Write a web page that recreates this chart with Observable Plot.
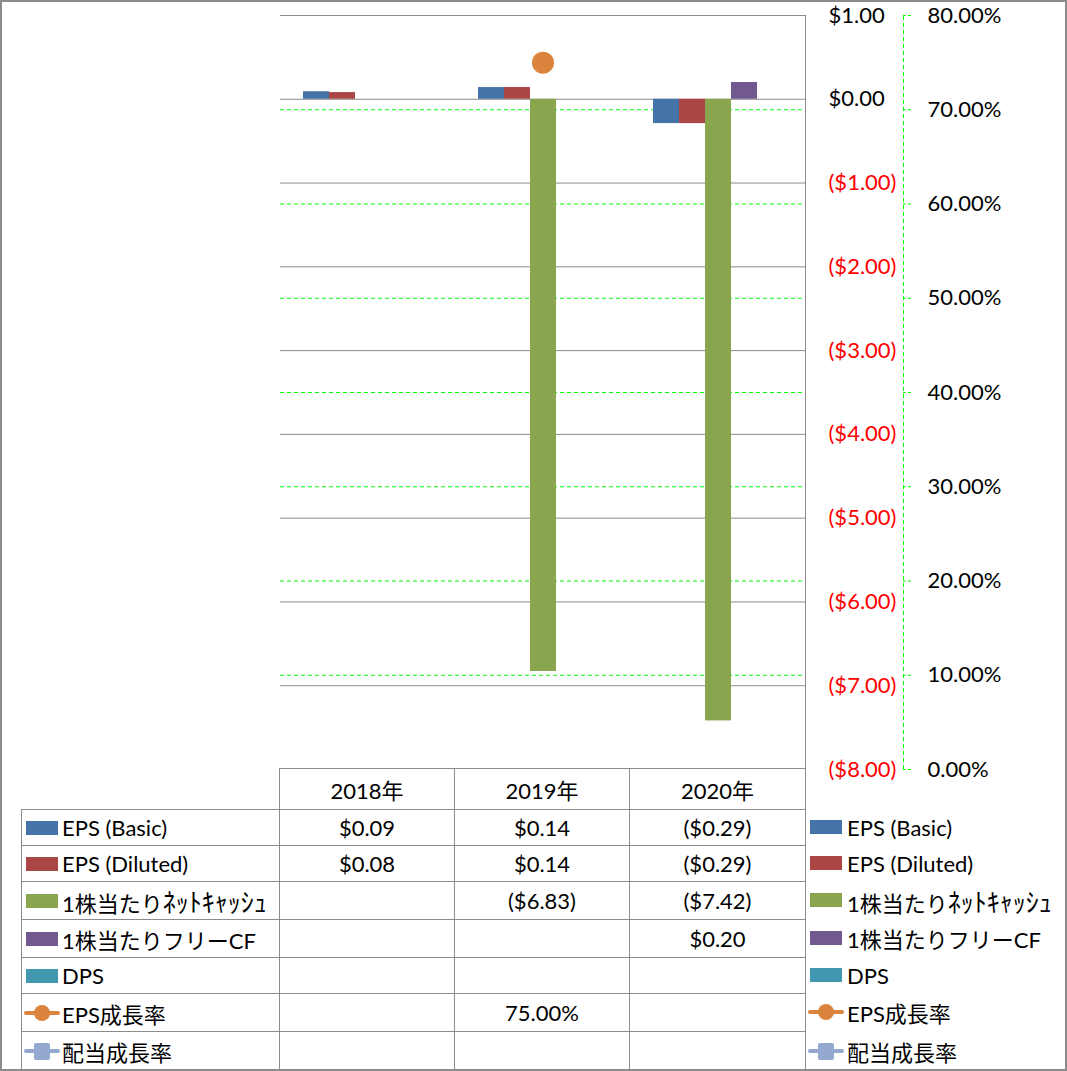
<!DOCTYPE html>
<html><head><meta charset="utf-8">
<script src="https://cdn.jsdelivr.net/npm/d3@7"></script>
<script src="https://cdn.jsdelivr.net/npm/@observablehq/plot@0.6"></script>
<style>
html,body{margin:0;padding:0;background:#fff;}
#wrap{position:relative;width:1067px;height:1071px;font-family:Lato,"Noto Sans CJK JP",sans-serif;font-size:22px;color:#000;overflow:hidden;background:#fff}
#wrap svg.plotsvg{position:absolute;left:0;top:0}
#border{position:absolute;left:0;top:0;width:1067px;height:1071px;box-sizing:border-box;border:2px solid #8c8c8c;pointer-events:none}
.cell{position:absolute;box-sizing:border-box;display:flex;align-items:center;white-space:nowrap;border-color:#8c8c8c;border-style:solid;border-width:0}
.cell.num{justify-content:center}
.sw{display:inline-block;flex:none}
.leg{position:absolute;display:flex;align-items:center;white-space:nowrap}
.hk{font-size:26px}
</style></head>
<body><div id="wrap"></div>
<script>
// ---------- data ----------
const years = ["2018年", "2019年", "2020年"];
const barSeries = ["EPS (Basic)", "EPS (Diluted)", "1株当たりﾈｯﾄｷｬｯｼｭ", "1株当たりフリーCF", "DPS"];
const lineSeries = ["EPS成長率", "配当成長率"];
const epsBasic = [0.09, 0.14, -0.29];
const epsDiluted = [0.08, 0.14, -0.29];
const netCash = [null, -6.83, -7.42];
const freeCF = [null, null, 0.20];
const dps = [null, null, null];
const epsGrowth = [null, 75, null];   // percent
const divGrowth = [null, null, null]; // percent
const dollarTicks = [1, 0, -1, -2, -3, -4, -5, -6, -7, -8];
const pctTicks = [0, 10, 20, 30, 40, 50, 60, 70, 80];

// ---------- styles ----------
const barColors = ["#4572A7", "#AA4643", "#89A54E", "#71588F", "#4198AF"];
const lineColors = ["#DB843D", "#93A9CF"];
const FONT = 'Lato, "Noto Sans CJK JP", sans-serif';
const GRID = "#8c8c8c";
const GREEN = "#00FF00";

const barValues = [epsBasic, epsDiluted, netCash, freeCF, dps];
const barRows = [];
years.forEach((yr, i) => barSeries.forEach((s, j) => {
  const v = barValues[j][i];
  if (v != null) barRows.push({year: yr, series: s, value: v});
}));
const growthRows = years.map((yr, i) => ({year: yr, value: epsGrowth[i]})).filter(d => d.value != null);

// secondary (percent) axis mapped onto primary dollar axis: 0% -> -8, 80% -> 1
const toY = p => -8 + p * 9 / 80;
const fmtMoney = v => v == null ? "" : (v < 0 ? `($${(-v).toFixed(2)})` : `$${v.toFixed(2)}`);
const fmtPct = v => v == null ? "" : `${v.toFixed(2)}%`;
// half-width katakana rendered a bit larger (display only)
const styleLabel = s => s.replace(/[\uFF61-\uFF9F]+/g, m => `<span class="hk">${m}</span>`);

const W = 1067, H = 770;
const common = {width: W, height: H, marginTop: 15, marginBottom: 1, marginLeft: 279};
const wrap = document.getElementById("wrap");

// ---------- main chart ----------
const main = Plot.plot({
  ...common, marginRight: 262,
  style: {background: "transparent", overflow: "visible", fontFamily: FONT, fontSize: "22px"},
  fx: {domain: years, padding: 0, axis: null},
  x: {domain: barSeries, paddingInner: 0, paddingOuter: 0.77, axis: null},
  y: {domain: [-8, 1], axis: null},
  color: {domain: barSeries, range: barColors},
  marks: [
    Plot.ruleY(dollarTicks.filter(d => d > -8), {stroke: GRID, strokeWidth: 1}),
    Plot.ruleY(pctTicks.filter(p => p > 0 && p < 80), {y: toY, stroke: GREEN, strokeWidth: 1, strokeDasharray: "4,3"}),
    Plot.barY(barRows, {fx: "year", x: "series", y: "value", fill: "series", inset: 0}),
    Plot.dot(growthRows, {fx: "year", y: d => toY(d.value), r: 11, fill: lineColors[0]})
  ]
});
main.classList.add("plotsvg");
wrap.appendChild(main);

// ---------- dollar axis (right of plot area) + secondary axis line ----------
const dollarAxis = Plot.plot({
  ...common, marginRight: 262,
  style: {background: "transparent", overflow: "visible", fontFamily: FONT, fontSize: "22px", color: "#000"},
  x: {domain: [0, 1], axis: null},
  y: {domain: [-8, 1], axis: "right", ticks: dollarTicks, tickSize: 0, tickPadding: 23, tickFormat: fmtMoney, label: null},
  marks: [
    Plot.ruleX([1], {y1: -8, y2: 1, stroke: GRID, strokeWidth: 1}),
    Plot.ruleX([1], {y1: -8, y2: 1, dx: 98, stroke: GREEN, strokeWidth: 1, strokeDasharray: "4,3"}),
    Plot.ruleY(pctTicks, {y: toY, x1: 1, x2: 1, insetRight: -8, dx: 98, stroke: GREEN, strokeWidth: 1, strokeDasharray: "3,2"})
  ]
});
dollarAxis.classList.add("plotsvg");
d3.select(dollarAxis).selectAll("text").each(function () {
  this.setAttribute("fill", this.textContent.trim().startsWith("(") ? "#FF0000" : "#000");
});
wrap.appendChild(dollarAxis);

// ---------- percent axis labels ----------
const pctAxis = Plot.plot({
  ...common, marginRight: 164,
  style: {background: "transparent", overflow: "visible", fontFamily: FONT, fontSize: "22px", color: "#000"},
  x: {domain: [0, 1], axis: null},
  y: {domain: [0, 80], axis: "right", ticks: pctTicks, tickSize: 0, tickPadding: 24, tickFormat: d => fmtPct(d), label: null},
  marks: [Plot.ruleX([1], {y1: 0, y2: 80, strokeOpacity: 0})]
});
pctAxis.classList.add("plotsvg");
wrap.appendChild(pctAxis);

// ---------- data table ----------
const colX = [21, 279, 454, 629, 805];
const rowY = [768, 809, 845, 881, 919, 957, 993, 1031, 1070];
const allSeries = [...barSeries, ...lineSeries];
const allValues = [...barValues, epsGrowth, divGrowth];
const allFormats = [fmtMoney, fmtMoney, fmtMoney, fmtMoney, fmtMoney, fmtPct, fmtPct];

function swatch(k) {
  if (k < barSeries.length) {
    return `<svg class="sw" width="32" height="14"><rect width="32" height="14" fill="${barColors[k]}"/></svg>`;
  }
  const c = lineColors[k - barSeries.length];
  const marker = k === barSeries.length
    ? `<circle cx="18" cy="10" r="8" fill="${c}"/>`
    : `<rect x="10" y="2" width="16" height="17" rx="2" fill="${c}"/>`;
  return `<svg class="sw" width="36" height="20" style="margin-left:-2px;margin-right:-2px"><line x1="2" x2="34" y1="10" y2="10" stroke="${c}" stroke-width="4" stroke-linecap="round"/>${marker}</svg>`;
}

function cell(x0, x1, y0, y1, opts) {
  const d = document.createElement("div");
  d.className = "cell" + (opts.num ? " num" : "");
  Object.assign(d.style, {left: x0 + "px", top: y0 + "px", width: (x1 - x0 + (opts.right ? 1 : 0)) + "px", height: (y1 - y0 + (opts.bottom ? 1 : 0)) + "px"});
  d.style.borderTopWidth = "1px";
  d.style.borderLeftWidth = "1px";
  if (opts.right) d.style.borderRightWidth = "1px";
  if (opts.bottom) d.style.borderBottomWidth = "1px";
  if (opts.pad) d.style.paddingLeft = opts.pad + "px";
  d.innerHTML = opts.html || "";
  wrap.appendChild(d);
}

// header
years.forEach((yr, i) => cell(colX[i + 1], colX[i + 2], rowY[0], rowY[1], {num: true, right: i === years.length - 1, html: yr}));
// rows
allSeries.forEach((s, r) => {
  const last = r === allSeries.length - 1;
  cell(colX[0], colX[1], rowY[r + 1], rowY[r + 2], {pad: 4, bottom: last,
    html: `${swatch(r)}<span style="margin-left:4px">${styleLabel(s)}</span>`});
  years.forEach((yr, i) => cell(colX[i + 1], colX[i + 2], rowY[r + 1], rowY[r + 2], {num: true, bottom: last, right: i === years.length - 1,
    html: allFormats[r](allValues[r][i])}));
  // legend on the right
  const lg = document.createElement("div");
  lg.className = "leg";
  Object.assign(lg.style, {left: "810px", top: rowY[r + 1] + "px", height: (rowY[r + 2] - rowY[r + 1]) + "px"});
  lg.innerHTML = `${swatch(r)}<span style="margin-left:5px">${styleLabel(s)}</span>`;
  wrap.appendChild(lg);
});

const b = document.createElement("div");
b.id = "border";
wrap.appendChild(b);
</script>
</body></html>
